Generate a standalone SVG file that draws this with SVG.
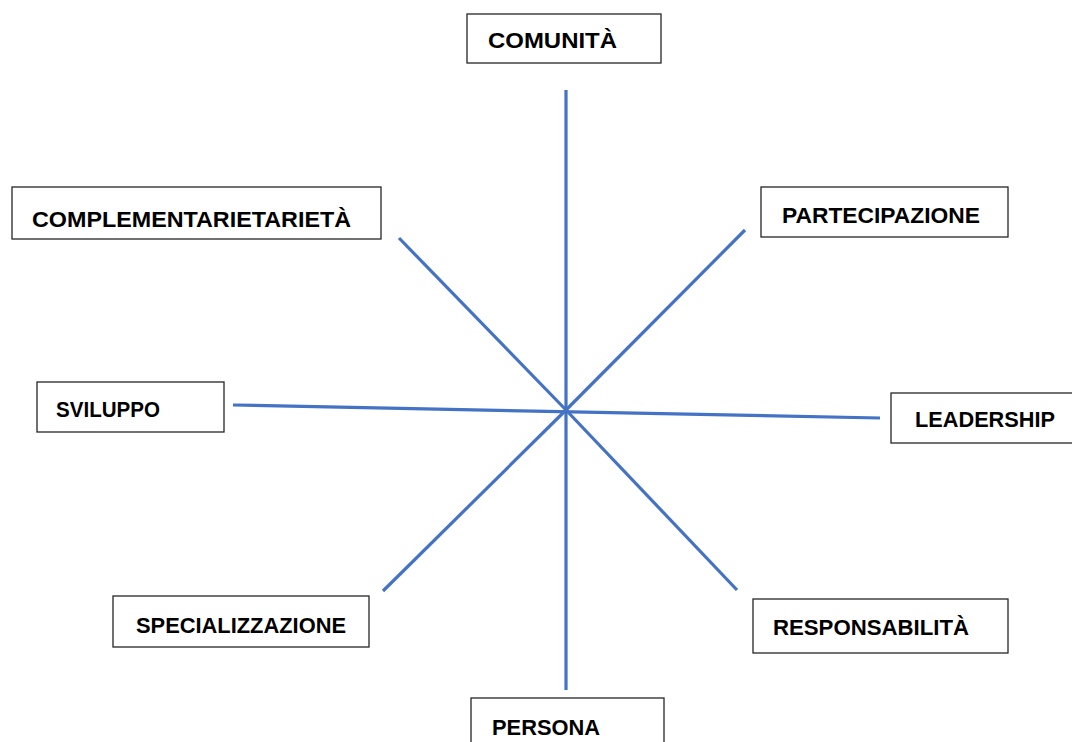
<svg xmlns="http://www.w3.org/2000/svg" width="1072" height="742" viewBox="0 0 1072 742">
<style>
.box{fill:#fff;stroke:#262626;stroke-width:1.3}
.lbl{font-family:"Liberation Sans",Arial,sans-serif;font-weight:bold;font-size:22px;fill:#000}
.ln{stroke:#4472C4;stroke-width:3.2;fill:none}
</style>
<rect width="1072" height="742" fill="#fff"/>
<g id="connectors">
<line class="ln" x1="566" y1="90" x2="566" y2="690"/>
<line class="ln" x1="399" y1="238" x2="566" y2="410"/>
<line class="ln" x1="745" y1="230" x2="566" y2="410"/>
<line class="ln" x1="233" y1="405" x2="880" y2="418"/>
<line class="ln" x1="383" y1="591" x2="566" y2="410"/>
<line class="ln" x1="737" y1="590" x2="566" y2="410"/>
</g>
<g id="comunita">
<rect class="box" x="467" y="14" width="194" height="49"/>
<text class="lbl" x="488" y="48" textLength="129" lengthAdjust="spacingAndGlyphs">COMUNITÀ</text>
</g>
<g id="complementarieta">
<rect class="box" x="12" y="187" width="369" height="52"/>
<text class="lbl" x="32" y="227" textLength="319" lengthAdjust="spacingAndGlyphs">COMPLEMENTARIETARIETÀ</text>
</g>
<g id="partecipazione">
<rect class="box" x="761" y="187" width="247" height="50"/>
<text class="lbl" x="782" y="223" textLength="198" lengthAdjust="spacingAndGlyphs">PARTECIPAZIONE</text>
</g>
<g id="sviluppo">
<rect class="box" x="37" y="382" width="187" height="50"/>
<text class="lbl" x="56" y="417" textLength="104" lengthAdjust="spacingAndGlyphs">SVILUPPO</text>
</g>
<g id="leadership">
<rect class="box" x="891" y="393" width="190" height="50"/>
<text class="lbl" x="915" y="427" textLength="140" lengthAdjust="spacingAndGlyphs">LEADERSHIP</text>
</g>
<g id="specializzazione">
<rect class="box" x="113" y="596" width="256" height="51"/>
<text class="lbl" x="136" y="633" textLength="210" lengthAdjust="spacingAndGlyphs">SPECIALIZZAZIONE</text>
</g>
<g id="responsabilita">
<rect class="box" x="753" y="599" width="255" height="54"/>
<text class="lbl" x="773" y="635" textLength="196" lengthAdjust="spacingAndGlyphs">RESPONSABILITÀ</text>
</g>
<g id="persona">
<rect class="box" x="471" y="698" width="193" height="60"/>
<text class="lbl" x="492" y="735" textLength="108" lengthAdjust="spacingAndGlyphs">PERSONA</text>
</g>
</svg>
